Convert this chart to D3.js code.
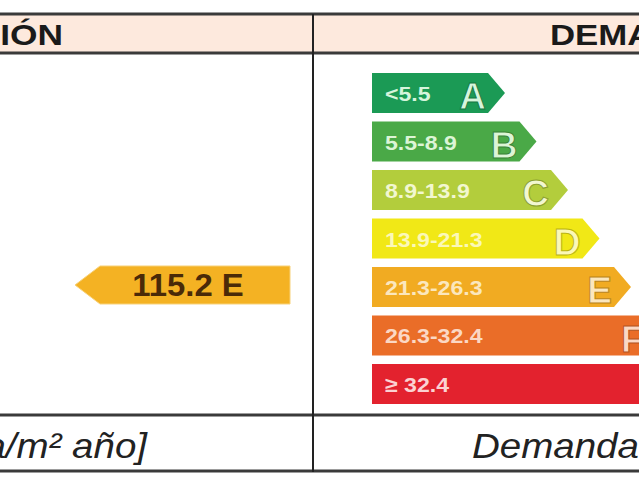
<!DOCTYPE html>
<html>
<head>
<meta charset="utf-8">
<script src="https://cdn.jsdelivr.net/npm/d3@7"></script>
<style>
  html, body { margin: 0; padding: 0; background: #fff; overflow: hidden; }
  svg { display: block; font-family: Arial, "Liberation Sans", sans-serif; }
</style>
</head>
<body>
<script>
// energy classes, their ranges and colours
let classes = ['A', 'B', 'C', 'D', 'E', 'F', 'G'];
let ranges = ['<5.5', '5.5-8.9', '8.9-13.9', '13.9-21.3', '21.3-26.3', '26.3-32.4', '≥ 32.4'];
let colors = ['#1b9a55', '#4aa947', '#b3cd3c', '#f1e816', '#f1ab22', '#ea6d28', '#e3222e'];
let textColors = ['#d6f5dc', '#dcf5d6', '#f2f7d0', '#fbf8b8', '#fbe7be', '#fbd8c4', '#fbd2d2'];
let rating = { value: 115.2, cls: 'E' };
let headers = ['CALIFICACIÓN', 'DEMANDA DE CALEFACCIÓN'];
let footers = ['[kWh energía primaria/m² año]', 'Demanda de calefacción [kWh/m² año]'];

let W = 639, H = 480;
let colX = 313;

let svg = d3.select('body').append('svg').attr('width', W).attr('height', H);

let y = d3.scaleBand().domain(classes).range([73, 404]).paddingInner(0.175).paddingOuter(0);
let shoulder = d3.scalePoint().domain(classes).range([488, 677]);
let barLeft = 372, tip = 17;

// the source picture is stretched sideways, so texts get a horizontal scale
let wideText = (x, yy, sx) => svg.append('text').attr('transform', `translate(${x},${yy}) scale(${sx},1)`);

// header band
svg.append('rect').attr('x', 0).attr('y', 14).attr('width', W).attr('height', 39).attr('fill', '#fde9dd');
wideText(63, 45, 1.22).attr('text-anchor', 'end')
  .attr('font-size', 29).attr('font-weight', 'bold').attr('fill', '#1a1a1a').text(headers[0]);
wideText(550, 45, 1.2)
  .attr('font-size', 29).attr('font-weight', 'bold').attr('fill', '#1a1a1a').text(headers[1]);

// table lines
[14, 53, 415, 471].forEach(ly => {
  svg.append('line').attr('x1', 0).attr('x2', W).attr('y1', ly).attr('y2', ly)
    .attr('stroke', '#3a3a3a').attr('stroke-width', 3);
});
svg.append('line').attr('x1', colX).attr('x2', colX).attr('y1', 14).attr('y2', 472)
  .attr('stroke', '#222').attr('stroke-width', 2);

// footer text
wideText(147, 458, 1.1).attr('text-anchor', 'end')
  .attr('font-size', 35).attr('font-style', 'italic').attr('fill', '#222').text(footers[0]);
wideText(472, 458, 1.1)
  .attr('font-size', 35).attr('font-style', 'italic').attr('fill', '#222').text(footers[1]);

// class arrows
let arrowPath = c => {
  let y0 = y(c), h = y.bandwidth(), sx = shoulder(c);
  return `M${barLeft},${y0}H${sx}L${sx + tip},${y0 + h / 2}L${sx},${y0 + h}H${barLeft}Z`;
};

let g = svg.append('g');
classes.forEach((c, i) => {
  let row = g.append('g');
  row.append('path').attr('d', arrowPath(c)).attr('fill', colors[i]);
  row.append('text')
    .attr('transform', `translate(${barLeft + 13},${y(c) + y.bandwidth() / 2 + 8}) scale(1.1,1)`)
    .attr('font-size', 21).attr('font-weight', 'bold')
    .attr('fill', textColors[i]).text(ranges[i]);
  row.append('text').attr('x', shoulder(c) - 2).attr('y', y(c) + y.bandwidth() - 4)
    .attr('text-anchor', 'end').attr('font-size', 37).attr('font-weight', 'bold')
    .attr('fill', textColors[i]).attr('stroke', d3.color(colors[i]).darker(0.7))
    .attr('stroke-width', 1).text(c);
});

// rating pointer, aligned with its class row
let py = y(rating.cls) - 1, ph = y.bandwidth() - 2;
let pLeft = 100, pRight = 290, pTip = 25;
svg.append('path')
  .attr('d', `M${pLeft},${py}H${pRight}V${py + ph}H${pLeft}L${pLeft - pTip},${py + ph / 2}Z`)
  .attr('fill', '#f4b223').attr('stroke', '#f8d27a').attr('stroke-width', 1);
svg.append('text')
  .attr('transform', `translate(188,${py + ph / 2 + 11}) scale(1.06,1)`)
  .attr('text-anchor', 'middle').attr('font-size', 31).attr('font-weight', 'bold')
  .attr('fill', '#4a2a08').text(`${rating.value} ${rating.cls}`);
</script>
</body>
</html>
